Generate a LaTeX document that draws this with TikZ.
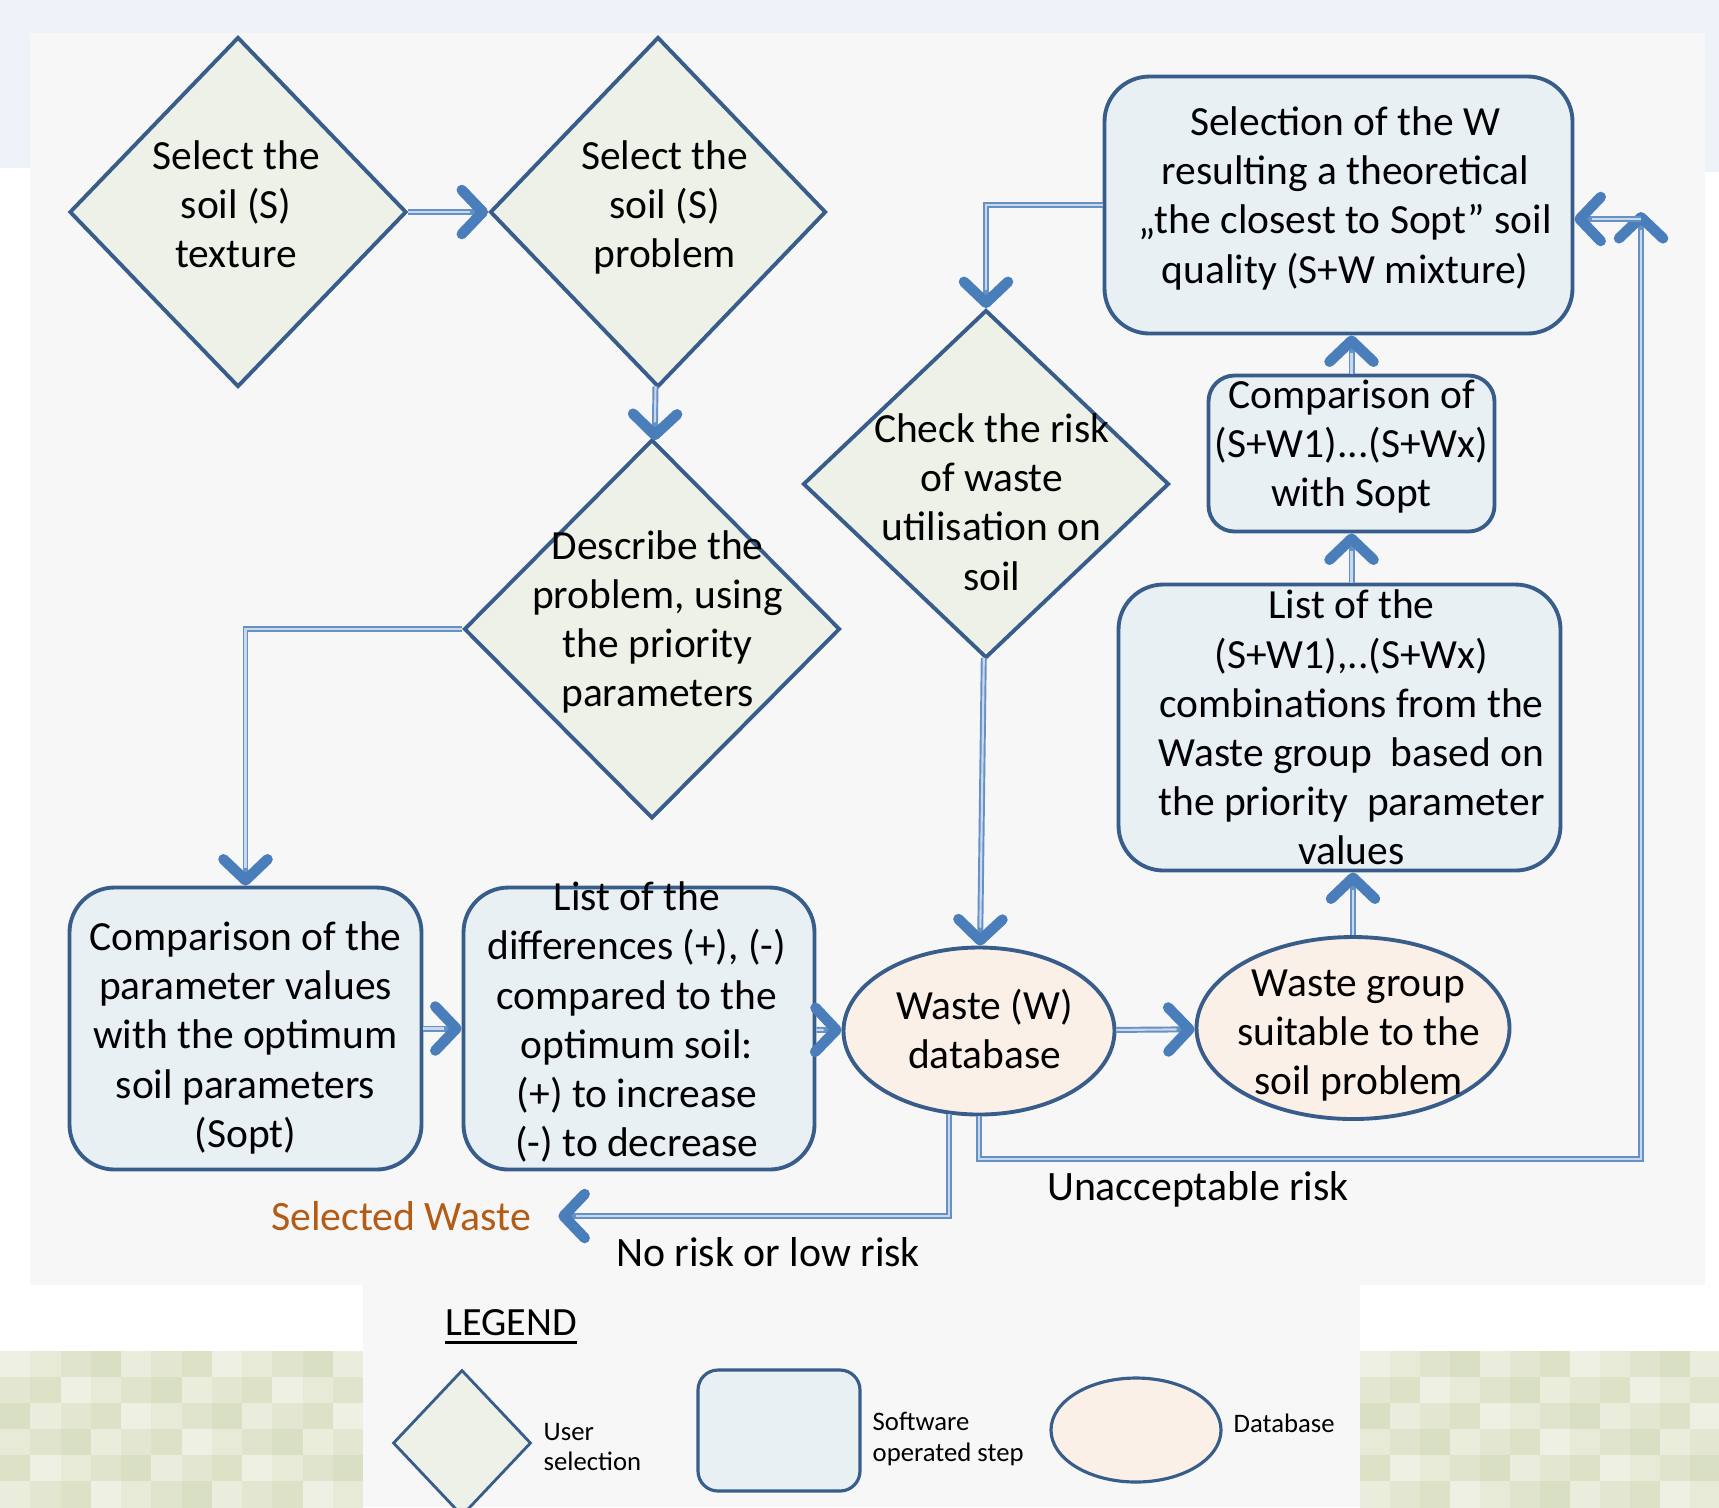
\documentclass[tikz,border=0pt]{standalone}
\usepackage{fontspec}
\setmainfont{Carlito}
\usepackage{tikz}
\usetikzlibrary{shapes,arrows.meta,calc,positioning}

\definecolor{edge}{RGB}{56,93,138}
\definecolor{flowblue}{RGB}{74,126,187}
\definecolor{pickfill}{RGB}{238,241,232}
\definecolor{stepfill}{RGB}{232,240,244}
\definecolor{storefill}{RGB}{251,240,231}
\definecolor{panel}{RGB}{247,247,247}
\definecolor{haze}{RGB}{238,243,250}
\definecolor{wasteout}{RGB}{178,92,22}
\definecolor{moss}{RGB}{190,200,150}

% text that does not change the size of its shape (x shift, y shift, lines)
\newcommand{\inbox}[3]{\smash{\raisebox{#2}{\makebox[0pt]{\hspace*{#1}\hspace*{#1}\begin{tabular}{@{}c@{}}#3\end{tabular}}}}}
% thick underline
\newcommand{\thickul}[1]{\leavevmode\vtop{\hbox{#1}\kern1.4pt\hrule height 0.9pt}}

\tikzset{
    auto,semithick,
    choice/.style ={diamond, draw=edge, fill=pickfill, line width=1.1pt, inner sep=0pt,
                    font=\fontsize{11.8}{14}\selectfont},
    stepbox/.style ={rectangle, rounded corners=4.5mm, draw=edge, fill=stepfill, line width=1.1pt,
                    inner sep=0pt, font=\fontsize{11.8}{14}\selectfont},
    store/.style ={ellipse, draw=edge, fill=storefill, line width=1.1pt, inner sep=0pt,
                    font=\fontsize{11.8}{14}\selectfont},
    flow/.style ={draw=flowblue!85, line width=1.7pt,
                  -{Straight Barb[length=2.1mm,width=4.4mm,line width=3pt,round,color=flowblue]},
                  postaction={draw=flowblue!30, line width=0.6pt, -, shorten >=1.8mm}},
    lbl/.style ={font=\fontsize{11.9}{14}\selectfont},
    key/.style ={font=\fontsize{7.6}{8.8}\selectfont, align=left, anchor=west, inner sep=0pt}
}

\begin{document}
\begin{tikzpicture}[x=0.1mm,y=-0.1mm]
  % Draw the background
  \useasboundingbox (0,0) rectangle (1719,1507);
  \fill[white] (0,0) rectangle (1719,1507);
  \fill[haze] (0,0) rectangle (1719,33);
  \fill[haze] (0,0) rectangle (30,168);
  \fill[haze] (1705,0) rectangle (1719,172);
  \fill[panel] (30,33) rectangle (1705,1285);
  \fill[panel] (363,1285) rectangle (1360,1507);
  \foreach \i in {0,...,11}
    \foreach \j in {0,...,5} {
      \pgfmathtruncatemacro\s{28+mod(\i*37+\j*17,7)*5}
      \fill[moss!\s!white] (\i*30.25,1351+\j*26) rectangle ++(30.5,26.5);
      \fill[moss!\s!white] (1360+\i*30,1351+\j*26) rectangle ++(30.5,26.5);
    }

  % Draw the nodes
  \node[choice, minimum width=33.7mm, minimum height=35mm] (tex) at (238,212)
    {\inbox{-0.5pt}{-2pt}{Select the\\soil (S)\\texture}};
  \node[choice, minimum width=33.6mm, minimum height=35mm] (prob) at (658,212)
    {\inbox{1.9pt}{-2pt}{Select the\\soil (S)\\problem}};
  \node[choice, minimum width=37.6mm, minimum height=37.9mm] (desc) at (652,629)
    {\inbox{1.6pt}{-1.3pt}{Describe the\\problem, using\\the priority\\parameters}};
  \node[choice, minimum width=36.6mm, minimum height=34.8mm] (risk) at (986,484)
    {\inbox{1.6pt}{-9.4pt}{Check the risk\\of waste\\utilisation on\\soil}};

  \node[stepbox, minimum width=46.8mm, minimum height=25.7mm] (sel) at (1338.5,205)
    {\inbox{1.9pt}{-1.4pt}{Selection of the W\\resulting a\ theoretical\\„the closest to Sopt” soil\\quality (S+W mixture)}};
  \node[stepbox, rounded corners=2.6mm, minimum width=28.6mm, minimum height=15.6mm] (cmpw) at (1351.5,453.5)
    {\inbox{0pt}{-1.4pt}{Comparison of\\(S+W1)...(S+Wx)\\with Sopt}};
  \node[stepbox, minimum width=44.2mm, minimum height=28.6mm] (lst) at (1339.5,727.5)
    {\inbox{3.4pt}{-4.3pt}{List of the\\(S+W1),..(S+Wx)\\combinations from the\\Waste group\ \ based on\\the priority\ \ parameter\\values}};
  \node[stepbox, minimum width=35.2mm, minimum height=28.2mm] (cmp) at (245.5,1028.5)
    {\inbox{0pt}{-6pt}{Comparison of the\\parameter values\\with the optimum\\soil parameters\\(Sopt)}};
  \node[stepbox, minimum width=35.1mm, minimum height=28.2mm] (diff) at (639,1028.5)
    {\inbox{-0.6pt}{-1.7pt}{List of the\\differences (+), (-)\\compared to the\\optimum soil:\\(+) to increase\\(-) to decrease}};

  \node[store, minimum width=27.1mm, minimum height=16.7mm] (db) at (979,1031)
    {\inbox{1.6pt}{-4pt}{Waste (W)\\database}};
  \node[store, minimum width=31.3mm, minimum height=18.2mm] (wg) at (1353,1028)
    {\inbox{1.6pt}{-5.1pt}{Waste group\\suitable to the\\soil problem}};

  \node[lbl, text=wasteout] (out) at (401,1216) {Selected Waste};
  \node[lbl] (nolow) at (768,1252) {No risk or low risk};
  \node[lbl] (unacc) at (1198,1189) {Unacceptable risk};
  \coordinate (rb) at (1641,1159);
  \coordinate (rt) at (1641,212);
  \coordinate (rj) at (1641,219);

  % Draw the arrows
  \draw[flow] (tex) -- (prob);
  \draw[flow] (prob) -- (desc);
  \draw[flow] (desc.west) -| (cmp.north);
  \draw[flow] (cmp) -- (diff);
  \draw[flow] (diff) -- (db);
  \draw[flow] (db) -- (wg);
  \draw[flow] (wg) -- (wg |- lst.south);
  \draw[flow] (lst.north -| cmpw) -- (cmpw);
  \draw[flow] (cmpw) -- (cmpw |- sel.south);
  \draw[flow] (sel.west) -| (risk.north);
  \draw[flow] (risk) -- (db);
  \draw[flow] (db.250) |- ([xshift=1.5mm]out.east);
  \draw[flow] (db.south) |- (rb) -- (rt);
  \draw[flow] (rj) -- (rj -| sel.east);

  % Draw the legend
  \node[font=\fontsize{11.4}{13}\selectfont] (legend) at (511,1327) {\thickul{LEGEND}};
  \node[choice, minimum width=13.8mm, minimum height=14.6mm, line width=0.8pt] (kpick) at (462,1443) {};
  \node[stepbox, rounded corners=2mm, minimum width=16.2mm, minimum height=12.1mm, line width=0.9pt] (kstep) at (779,1430.5) {};
  \node[store, minimum width=17mm, minimum height=10.4mm, line width=0.9pt] (kstore) at (1136,1430) {};
  \node[key] (kpicktxt) at (543,1447) {User\\selection};
  \node[key] (ksteptxt) at (872,1439) {Software\\operated step};
  \node[key] (kstoretxt) at (1233,1423) {Database};
\end{tikzpicture}
\end{document}
